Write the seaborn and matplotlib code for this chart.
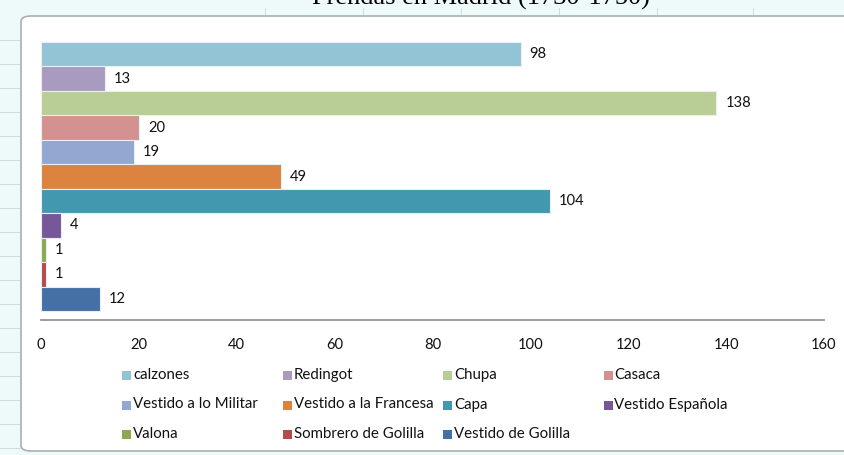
import matplotlib
matplotlib.use("Agg")
import matplotlib.pyplot as plt
from matplotlib.patches import FancyBboxPatch, Rectangle
import seaborn as sns

# prendas y cantidades (de arriba a abajo)
prendas = ["calzones", "Redingot", "Chupa", "Casaca", "Vestido a lo Militar",
           "Vestido a la Francesa", "Capa", "Vestido Española", "Valona",
           "Sombrero de Golilla", "Vestido de Golilla"]
cantidades = [98, 13, 138, 20, 19, 49, 104, 4, 1, 1, 12]
colores = ["#93C4D5", "#A99BC0", "#B9CD96", "#D39290", "#93A8D0", "#DC843F",
           "#4298AF", "#76589A", "#8DA752", "#B44C4A", "#4470A6"]
x_ticks = [0, 20, 40, 60, 80, 100, 120, 140, 160]
titulo = "Prendas en Madrid (1730-1750)"

sns.set_style("white")
plt.rcParams['font.family'] = ['Lato', 'DejaVu Sans']

W, H = 844, 455
fig = plt.figure(figsize=(W / 100, H / 100), dpi=100, facecolor="#EEF9FA")

# fondo de hoja de calculo
for yy in range(40, H, 24):
    fig.add_artist(plt.Line2D([0, 20 / W], [1 - yy / H, 1 - yy / H], zorder=-3,
                              color="#C9D6D8", lw=0.6, transform=fig.transFigure))
for xx in [265, 363, 461, 559, 657, 753]:
    fig.add_artist(plt.Line2D([xx / W, xx / W], [1 - 8 / H, 1 - 15 / H], zorder=-3,
                              color="#C9D6D8", lw=0.6, transform=fig.transFigure))

# marco del grafico
marco = FancyBboxPatch((21 / W, 4 / H), 1.2, 1 - 20 / H, boxstyle="round,pad=0,rounding_size=0.012",
                       transform=fig.transFigure, facecolor="white", edgecolor="#A8B0B2",
                       lw=1.2, zorder=-2)
fig.add_artist(marco)

fig.text(481 / W, 1 - 5 / H, titulo, ha="center", va="baseline", fontsize=19,
         family="Liberation Serif", color="black")

ax = fig.add_axes([41 / W, 1 - 320 / H, (824 - 41) / W, (320 - 33) / H])
ax.set_facecolor("none")

sns.barplot(x=cantidades, y=prendas, hue=prendas, palette=dict(zip(prendas, colores)),
            orient="h", width=1, legend=False, edgecolor="#E8EEF2", linewidth=0.8,
            saturation=1, ax=ax)

for cont in ax.containers:
    ax.bar_label(cont, padding=6.5, fontsize=10.6, color="#111111")

ax.set_xlim(0, 160)
ax.set_ylim(len(prendas) - 0.5 + 0.36, -0.5 - 0.36)
ax.set_xticks(x_ticks)
ax.set_yticks([])
ax.set_ylabel("")
ax.set_xlabel("")
ax.tick_params(axis="x", length=0, pad=13, labelsize=10.6, labelcolor="#111111")
for s in ["top", "right", "left"]:
    ax.spines[s].set_visible(False)
ax.spines["bottom"].set_color("#8C8C8C")
ax.spines["bottom"].set_linewidth(1.2)

# leyenda en 4 columnas
for i, (p, c) in enumerate(zip(prendas, colores)):
    col, row = i % 4, i // 4
    x0 = 122 + col * 160.5
    y0 = 375 + row * 29.5
    fig.add_artist(Rectangle((x0 / W, 1 - (y0 + 5) / H), 9 / W, 9 / H,
                             transform=fig.transFigure, facecolor=c, edgecolor="none"))
    fig.text((x0 + 11) / W, 1 - y0 / H, p, ha="left", va="center", fontsize=10.8,
             color="#111111")

fig.savefig("out.png", dpi=100, facecolor=fig.get_facecolor())
